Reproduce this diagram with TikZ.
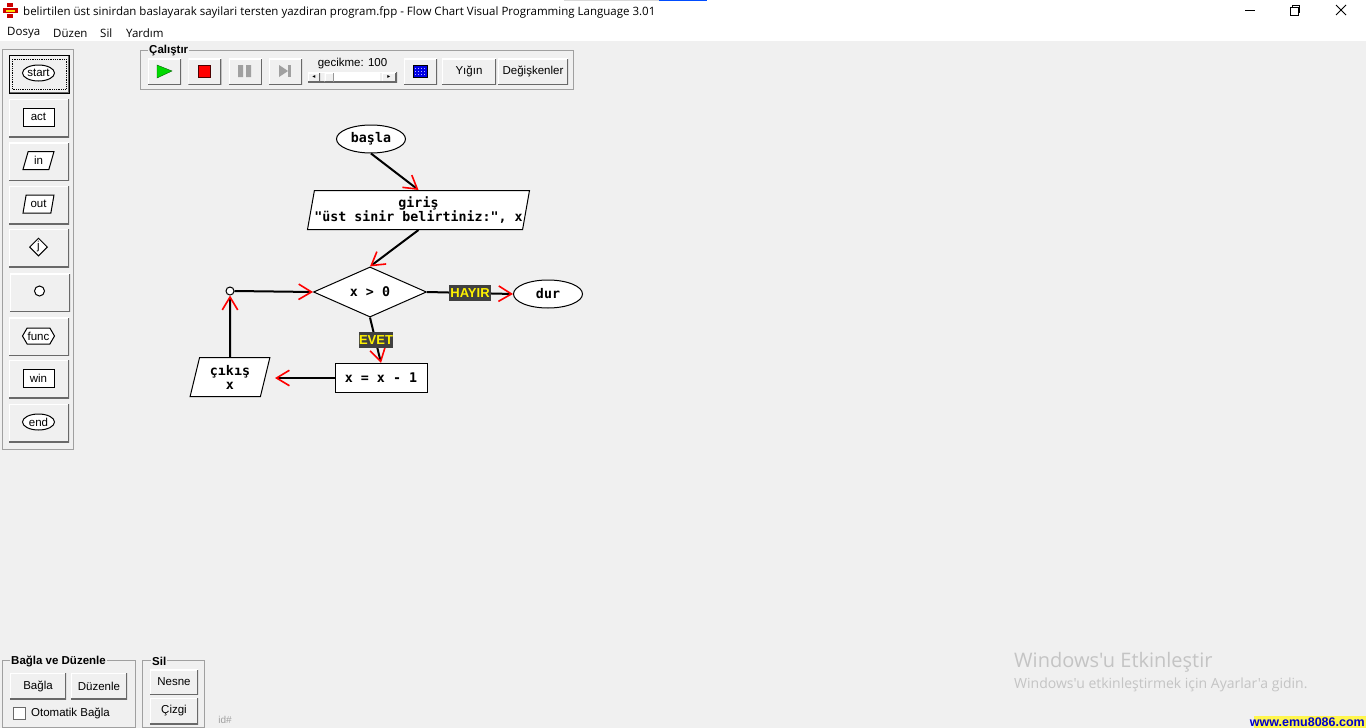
\documentclass[tikz,border=0pt]{standalone}
\usepackage{fontspec}
\setmainfont{Liberation Sans}
\newfontfamily\chartfont{DejaVu Sans Mono}
\newfontfamily\titlefont{Open Sans}
\newfontfamily\arrowfont{DejaVu Sans}
\usetikzlibrary{arrows.meta,calc,positioning,shapes.geometric,shapes.symbols}
\definecolor{Face}{HTML}{F0F0F0}
\definecolor{Edge}{HTML}{696969}
\definecolor{Frame}{HTML}{A0A0A0}
\definecolor{Tag}{HTML}{404040}
\definecolor{Mark}{HTML}{C4C4C4}
\tikzset{
  uibtn/.style={
    rectangle, fill=Face, inner sep=0pt, font=\fontsize{11.5}{13}\selectfont,
    path picture={
      \draw[white,line width=2pt] (path picture bounding box.south west) |- (path picture bounding box.north east);
      \draw[Edge,line width=2pt] (path picture bounding box.south west) -| (path picture bounding box.north east);
    }
  },
  toolbtn/.style={uibtn, minimum width=60pt, minimum height=38pt},
  runbtn/.style={uibtn, minimum width=33pt, minimum height=26pt},
  groupbox/.style={draw=Frame, fill=none, line width=1pt},
  grouptitle/.style={fill=Face, inner sep=1pt, font=\fontsize{11.5}{13}\selectfont\bfseries},
  menutext/.style={inner sep=0pt, anchor=west, font=\titlefont\fontsize{11.5}{13}\selectfont},
  chartnode/.style={
    draw=black, fill=white, line width=1pt, inner sep=0pt, align=center,
    font=\chartfont\bfseries\fontsize{13.3}{14}\selectfont
  },
  terminal/.style={chartnode, ellipse, minimum width=69pt, minimum height=28pt},
  slanted/.style={chartnode, trapezium, trapezium left angle=75.5, trapezium right angle=104.5,
    trapezium stretches=true, minimum height=39pt},
  choice/.style={chartnode, diamond, minimum width=113pt, minimum height=50pt},
  process/.style={chartnode, rectangle, minimum width=92pt, minimum height=29pt},
  joint/.style={chartnode, circle, minimum size=8pt},
  edgetag/.style={fill=Tag, text=yellow, inner sep=0pt, font=\bfseries\fontsize{13}{14}\selectfont},
  flow/.style={-{Straight Barb[angle=62:15pt,color=red,line width=1.6pt]}, line width=2pt, draw=black},
  icon/.style={draw=black, fill=white, line width=1pt, inner sep=0pt, font=\fontsize{11.5}{13}\selectfont}
}

\begin{document}
\begin{tikzpicture}[x=1pt,y=-1pt]
    \useasboundingbox (0,0) rectangle (1366,728);
    \fill[Face] (0,0) rectangle (1366,728);
    % title bar
    \fill[white] (0,0) rectangle (1366,41);
    \fill[Face!90!black] (564,0) rectangle (659,1);
    \fill[blue!70!cyan] (659,0) rectangle (707,1);
    \fill[red!80!black] (7,3) rectangle (13,7);
    \fill[red!80!black] (3,8) rectangle (18,13);
    \fill[yellow!80!orange] (6,9.5) rectangle (15,11.5);
    \fill[red!80!black] (7,14) rectangle (13,18);
    \node[menutext] (title) at (23,12) {belirtilen üst sinirdan baslayarak sayilari tersten yazdiran program.fpp - Flow Chart Visual Programming Language 3.01};
    \node[menutext] (dosya) at (7,33) {Dosya};
    \node[menutext] (duzen) at (53,33) {Düzen};
    \node[menutext] (sil) at (100,33) {Sil};
    \node[menutext] (yardim) at (126,33) {Yardım};
    \draw[black,line width=1pt] (1245,10) -- (1255,10);
    \draw[black,line width=1pt] (1290.5,7.5) rectangle (1298,15);
    \draw[black,line width=1pt] (1292.5,7.5) |- (1299.5,5.5) -- (1299.5,12.5) -- (1298,12.5);
    \draw[black,line width=1pt] (1336,5) -- (1346,15) (1346,5) -- (1336,15);

    % palette
    \draw[groupbox] (2.5,49.5) rectangle (73.5,449.5);
    \node[toolbtn,draw=black,line width=1pt] (bstart) at (39,74) {};
    \draw[black,densely dotted,line width=0.8pt] (12,59) rectangle (66,89);
    \node[toolbtn] (bact) at (39,118) {};
    \node[toolbtn] (bin) at (39,161.5) {};
    \node[toolbtn] (bout) at (39,205) {};
    \node[toolbtn] (bif) at (39,248) {};
    \node[toolbtn] (bnode) at (40,292.5) {};
    \node[toolbtn] (bfunc) at (39,336.5) {};
    \node[toolbtn] (bwin) at (39,379) {};
    \node[toolbtn] (bend) at (39,423) {};
    \node[icon,ellipse,minimum width=32pt,minimum height=16pt] (istart) at (38.5,73) {start};
    \node[icon,minimum width=31pt,minimum height=18pt] (iact) at (38.5,117) {act};
    \node[icon,trapezium,trapezium left angle=75,trapezium right angle=105,trapezium stretches=true,minimum width=31pt,minimum height=18pt] (iin) at (38.5,160.5) {in};
    \node[icon,trapezium,trapezium left angle=75,trapezium right angle=105,trapezium stretches=true,minimum width=31pt,minimum height=18pt] (iout) at (38.5,204) {out};
    \node[icon,diamond,minimum size=18pt] (iif) at (38.5,247) {j};
    \node[icon,circle,minimum size=10pt] (inode) at (39.5,291) {};
    \node[icon,signal,signal to=east and west,signal pointer angle=120,minimum width=32pt,minimum height=16pt] (ifunc) at (38.5,336) {func};
    \node[icon,minimum width=31pt,minimum height=18pt] (iwin) at (38.5,378) {win};
    \node[icon,ellipse,minimum width=32pt,minimum height=16pt] (iend) at (38.5,422) {end};

    % run toolbar
    \draw[groupbox] (140.5,50.5) rectangle (573.5,89.5);
    \node[grouptitle,anchor=west] (calistir) at (148,51) {Çalıştır};
    \node[runbtn] (bplay) at (164.5,71.5) {};
    \node[runbtn,right=7pt of bplay] (bstop) {};
    \node[runbtn,right=7pt of bstop] (bpause) {};
    \node[runbtn,right=7pt of bpause] (bstep) {};
    \node[runbtn] (bscreen) at (420.5,71.5) {};
    \node[runbtn,minimum width=54pt] (byigin) at (469,71.5) {Yığın};
    \node[runbtn,minimum width=70pt] (bdegisken) at (533,71.5) {Değişkenler};
    \fill[green!85!black,draw=black!60!green] (157,65) -- (172,71) -- (157,78) -- cycle;
    \fill[red,draw=black!70!red] (198.5,65) rectangle (210.5,77);
    \fill[Frame] (238,65) rectangle (243,77) (246,65) rectangle (251,77);
    \fill[Frame] (279,65) -- (288,71) -- (279,77) -- cycle;
    \fill[Frame] (288,65) rectangle (291,77);
    \fill[blue!90!black,draw=black] (413,65) rectangle (427,77);
    \foreach \dotx in {415,418,421,424}
      \foreach \doty in {68,71,74}
        \fill[white!70!blue] (\dotx,\doty) rectangle ++(1,1);
    \node[font=\fontsize{11.5}{13}\selectfont,inner sep=0pt] (gecikme) at (352.5,64) {gecikme: 100};
    \node[uibtn,minimum width=89pt,minimum height=10pt] (slider) at (352.5,77) {};
    \fill[white] (334,73) rectangle (380,81);
    \node[uibtn,minimum width=9pt,minimum height=9pt] (bthumb) at (329,77) {};
    \node[uibtn,minimum width=12pt,minimum height=9pt,font=\arrowfont\fontsize{6}{6}\selectfont] (bleft) at (314,77) {◂};
    \node[uibtn,minimum width=14pt,minimum height=9pt,font=\arrowfont\fontsize{6}{6}\selectfont] (bright) at (389,77) {▸};

    % flow chart
    \node[terminal] (basla) at (371,139) {başla};
    \node[slanted,minimum width=219pt] (giris) at (418.5,210) {giriş\\"üst sinir belirtiniz:", x};
    \node[choice] (kosul) at (370,292) {x > 0};
    \node[terminal] (dur) at (548,294) {dur};
    \node[process] (azalt) at (381,378) {x = x - 1};
    \node[slanted,minimum width=80pt] (cikis) at (230,377) {çıkış\\x};
    \node[joint] (dugum) at (230,291) {};
    \coordinate (cikisin) at (275,378);
    \coordinate (durin) at (513,294);
    \draw[flow] (basla.south) -- (giris.north);
    \draw[flow] (giris.south) -- (kosul.north);
    \draw[flow] (kosul.east) -- (durin);
    \draw[flow] (kosul.south) -- (azalt.north);
    \draw[flow] (azalt.west) -- (cikisin);
    \draw[flow] (cikis.north) -- (dugum.south);
    \draw[flow] (dugum.east) -- (kosul.west);
    \node[edgetag,minimum width=42pt,minimum height=16pt] (hayir) at (470,293) {HAYIR};
    \node[edgetag,minimum width=30pt,minimum height=16pt] (evet) at (376,340) {EVET};

    % bottom panels
    \draw[groupbox] (2.5,660.5) rectangle (135.5,727);
    \node[grouptitle,anchor=west] (bagladuzen) at (10,661) {Bağla ve Düzenle};
    \node[uibtn,minimum width=56pt,minimum height=26pt] (bbagla) at (38,686) {Bağla};
    \node[uibtn,minimum width=56pt,minimum height=26pt] (bduzenle) at (99,686) {Düzenle};
    \node[draw=Edge,fill=white,inner sep=0pt,minimum size=12pt] (otobox) at (19,713) {};
    \node[inner sep=0pt,anchor=west,font=\fontsize{11.5}{13}\selectfont] (otomatik) at (31,713) {Otomatik Bağla};
    \draw[groupbox] (142.5,660.5) rectangle (204.5,727);
    \node[grouptitle,anchor=west] (silbaslik) at (151,661) {Sil};
    \node[uibtn,minimum width=48pt,minimum height=25pt] (bnesne) at (174,682) {Nesne};
    \node[uibtn,minimum width=48pt,minimum height=26pt] (bcizgi) at (174,711) {Çizgi};
    \node[text=Frame,font=\fontsize{10}{12}\selectfont,inner sep=0pt] (idno) at (225,720) {id\#};

    % corner texts
    \node[anchor=west,text=Mark,inner sep=0pt,font=\titlefont\fontsize{20}{24}\selectfont] (etkin) at (1014,662) {Windows'u Etkinleştir};
    \node[anchor=west,text=Mark,inner sep=0pt,font=\titlefont\fontsize{14}{16}\selectfont] (ayar) at (1014,685) {Windows'u etkinleştirmek için Ayarlar'a gidin.};
    \fill[yellow!70!white] (1254,716) rectangle (1366,728);
    \node[anchor=east,text=blue!80!black,inner sep=0pt,font=\bfseries\fontsize{12.5}{14}\selectfont] (emu) at (1365,722) {www.emu8086.com};
  \end{tikzpicture}
\end{document}
